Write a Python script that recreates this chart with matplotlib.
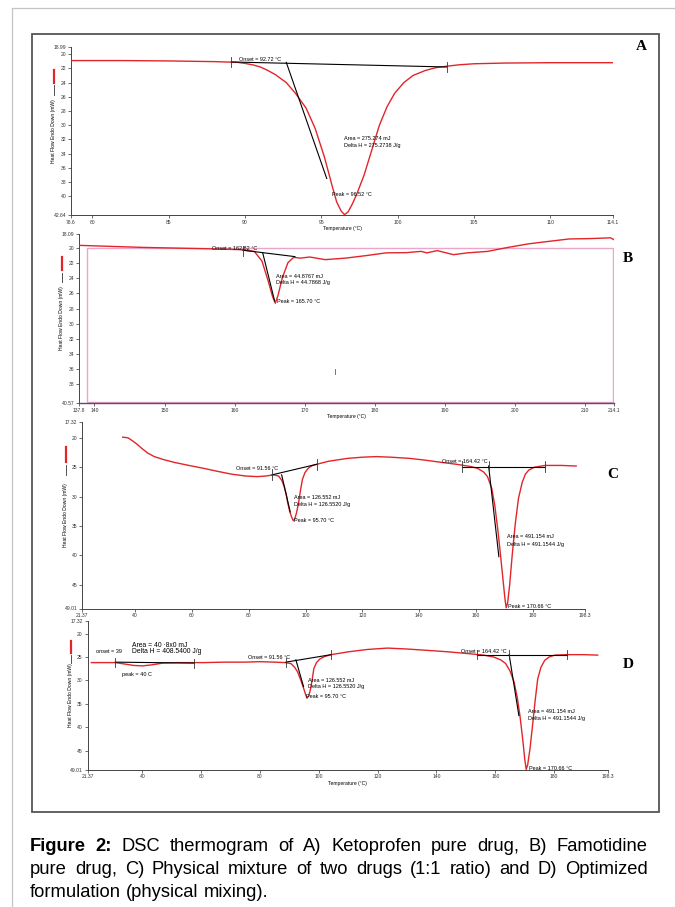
import matplotlib
matplotlib.use('Agg')
import matplotlib.pyplot as plt
from matplotlib.ticker import FuncFormatter
from matplotlib.patches import Rectangle
from matplotlib.lines import Line2D

plt.rcParams['font.family'] = ['Liberation Sans', 'DejaVu Sans']

# ---- data (temperature in °C, heat flow in mW) ----
A_temp = [78.6, 82, 85, 88, 89.5, 90.0, 90.5, 91.0, 91.5, 92.0, 92.7, 93.3, 94.0, 94.6, 95.2,
          95.7, 96.0, 96.3, 96.52, 96.75, 97.0, 97.3, 97.8, 98.3, 98.8, 99.3, 99.8, 100.4,
          101.0, 101.8, 102.5, 103.2, 104.0, 105.0, 107.0, 110.0, 114.1]
A_flow = [20.9, 20.9, 20.95, 21.05, 21.15, 21.3, 21.5, 21.8, 22.3, 22.9, 24.0, 25.5, 27.6, 30.5, 34.5,
          38.5, 40.8, 42.1, 42.6, 42.2, 41.2, 39.8, 37.0, 33.5, 30.0, 27.4, 25.5, 24.0,
          23.0, 22.3, 21.9, 21.7, 21.5, 21.35, 21.25, 21.2, 21.2]

B_temp = [137.8, 146.8, 155.5, 160.7, 162.8, 163.9, 164.8, 165.4, 165.8, 166.2, 166.8, 167.6,
          168.4, 169.4, 170.7, 172.9, 175.8, 178.7, 181.6, 184.5, 186.6, 187.4, 188.9, 191.2,
          193.2, 196.1, 199.0, 201.9, 204.8, 207.7, 210.7, 213.6, 214.1]
B_flow = [19.6, 19.87, 20.04, 20.17, 20.4, 21.7, 24.4, 26.4, 27.3, 26.2, 23.9, 21.9,
          21.2, 21.3, 21.15, 21.5, 21.3, 20.97, 20.6, 20.57, 20.4, 20.6, 20.3, 20.84,
          20.6, 20.4, 19.87, 19.4, 19.07, 18.75, 18.7, 18.6, 18.85]

C_temp = [35.7, 37.5, 38.8, 40.5, 42.4, 44.5, 46.8, 50, 54, 59,
          64.2, 69, 74.2, 79, 83, 86, 88.8, 90.5, 91.6, 92.5,
          93.2, 93.8, 94.5, 95.2, 95.7, 96.2, 96.8, 97.5, 98.2, 98.9,
          99.8, 101.1, 102.5, 104, 108, 114.8, 120, 124.9, 130, 136.6,
          142, 148.1, 153, 158.3, 160.5, 162.6, 164, 165.5, 166.6, 167.7,
          168.7, 169.6, 170.2, 170.6, 171.1, 171.8, 172.7, 173.8, 174.9, 176.2,
          177.3, 178.5, 180.5, 184.3, 190, 195.2]
C_flow = [19.9, 20.0, 20.4, 21.0, 21.8, 22.6, 23.2, 23.7, 24.2, 24.7,
          25.2, 25.7, 26.2, 26.5, 26.6, 26.5, 26.3, 26.5, 27.2, 28.3,
          29.6, 31.2, 32.6, 33.6, 34.1, 33.8, 32.8, 31.2, 29.0, 27.1,
          25.9, 25.1, 24.7, 24.5, 24.0, 23.5, 23.3, 23.2, 23.3, 23.5,
          23.8, 24.2, 24.5, 24.9, 25.2, 25.8, 26.6, 28.6, 31.6, 35.9,
          40.5, 44.8, 47.6, 48.9, 48.0, 45.0, 39.9, 34.5, 30.3, 27.6,
          26.2, 25.5, 25.0, 24.7, 24.7, 24.8]

D_temp = [22.7, 27, 30.8, 34, 37, 40, 43, 47, 52, 60.8,
          68, 74.7, 80, 85, 88.6, 90.5, 91.8, 92.8, 93.9, 94.9,
          95.5, 96.0, 96.6, 97.2, 97.8, 98.3, 99.2, 100.4, 102, 104.2,
          110, 116.4, 123.3, 130, 137.2, 144, 151.1, 156, 159.4, 161.8,
          163.5, 165, 166.4, 167.5, 168.4, 169.3, 170.0, 170.5, 171.0, 171.8,
          172.6, 173.5, 174.4, 175.5, 176.8, 178.3, 180.2, 184.4, 190, 194.8]
D_flow = [26.2, 26.2, 26.2, 26.5, 26.8, 26.9, 26.7, 26.3, 26.2, 26.2,
          26.1, 26.1, 26.0, 26.1, 26.2, 26.4, 27.2, 28.2, 30.0, 31.8,
          33.0, 33.8, 33.3, 31.8, 29.6, 27.5, 26.2, 25.4, 24.9, 24.5,
          23.9, 23.4, 23.1, 23.3, 23.6, 23.9, 24.3, 24.6, 25.0, 25.6,
          26.4, 28.0, 30.4, 33.8, 37.7, 42.5, 46.8, 49.0, 48.0, 44.5,
          39.9, 34.5, 29.7, 27.2, 25.7, 25.0, 24.6, 24.5, 24.5, 24.6]

# axis ranges and ticks
A_xlim, A_ylim = (78.6, 114.1), (18.99, 42.64)
A_xticks = [78.6, 80, 85, 90, 95, 100, 105, 110, 114.1]
A_yticks = [18.99, 20, 22, 24, 26, 28, 30, 32, 34, 36, 38, 40, 42.64]
B_xlim, B_ylim = (137.8, 214.1), (18.09, 40.57)
B_xticks = [137.8, 140, 150, 160, 170, 180, 190, 200, 210, 214.1]
B_yticks = [18.09, 20, 22, 24, 26, 28, 30, 32, 34, 36, 38, 40.57]
C_xlim, C_ylim = (21.37, 198.3), (17.32, 49.01)
C_xticks = [21.37, 40, 60, 80, 100, 120, 140, 160, 180, 198.3]
C_yticks = [17.32, 20, 25, 30, 35, 40, 45, 49.01]
D_xlim, D_ylim = C_xlim, C_ylim
D_xticks, D_yticks = C_xticks, C_yticks

# analysis constructions (baselines / tangents)
A_lines = [([89.1, 103.2], [21.1, 21.8]), ([92.7, 95.35], [21.15, 37.5])]
A_marks = [(89.1, 21.1), (103.2, 21.8)]
A_notes = [(89.6, 20.8, 'Onset = 92.72 °C'), (96.5, 31.9, 'Area = 275.274 mJ'),
           (96.5, 32.9, 'Delta H = 275.2738 J/g'), (95.7, 39.7, 'Peak = 96.52 °C')]

B_lines = [([161.2, 168.6], [20.25, 21.1]), ([164.0, 165.7], [20.6, 27.0])]
B_marks = [(161.2, 20.4)]
B_notes = [(156.7, 20.0, 'Onset = 162.82 °C'), (165.9, 23.7, 'Area = 44.8767 mJ'),
           (165.9, 24.6, 'Delta H = 44.7868 J/g'), (166.0, 27.1, 'Peak = 165.70 °C')]

C_lines = [([88.2, 104.0], [26.3, 24.5]), ([91.6, 94.6], [26.3, 32.6]),
           ([155.1, 184.3], [24.9, 24.9]), ([164.4, 168.0], [24.8, 40.2])]
C_marks = [(88.2, 26.3), (104.0, 24.5), (155.1, 24.9), (164.4, 24.9), (184.3, 24.9)]
C_notes = [(75.7, 25.3, 'Onset = 91.56 °C'), (96.0, 30.2, 'Area = 126.552 mJ'),
           (96.0, 31.4, 'Delta H = 126.5520 J/g'), (96.0, 34.0, 'Peak = 95.70 °C'),
           (148.0, 24.1, 'Onset = 164.42 °C'), (171.0, 36.8, 'Area = 491.154 mJ'),
           (171.0, 38.1, 'Delta H = 491.1544 J/g'), (171.3, 48.7, 'Peak = 170.66 °C')]

D_lines = [([30.8, 57.6], [26.1, 26.3]), ([88.8, 104.2], [26.1, 24.5]), ([92.2, 94.8], [25.6, 31.3]),
           ([153.8, 184.4], [24.5, 24.5]), ([164.7, 168.0], [24.5, 37.5])]
D_marks = [(30.8, 26.1), (57.6, 26.3), (88.8, 26.1), (104.2, 24.5), (153.8, 24.5), (164.7, 24.5), (184.4, 24.5)]
D_notes = [(76.0, 25.2, 'Onset = 91.56 °C'), (96.3, 30.1, 'Area = 126.552 mJ'),
           (96.3, 31.2, 'Delta H = 126.5520 J/g'), (95.7, 33.5, 'Peak = 95.70 °C'),
           (148.4, 23.8, 'Onset = 164.42 °C'), (171.2, 36.7, 'Area = 491.154 mJ'),
           (171.2, 38.1, 'Delta H = 491.1544 J/g'), (171.3, 48.8, 'Peak = 170.66 °C'),
           (33.1, 28.8, 'peak = 40 C'), (24.2, 23.8, 'onset = 39')]
D_big_notes = [(36.5, 22.6, 'Area = 40 ·8x0 mJ'), (36.5, 23.8, 'Delta H = 408.5400 J/g')]

caption_1 = 'Figure 2: DSC thermogram of A) Ketoprofen pure drug, B) Famotidine'
caption_2 = 'pure drug, C) Physical mixture of two drugs (1:1 ratio) and D) Optimized'
caption_3 = 'formulation (physical mixing).'

RED = '#e3252a'
W, H = 675, 907
fig = plt.figure(figsize=(W / 100, H / 100), dpi=100)


def box(l, t, r, b):
    return [l / W, 1 - b / H, (r - l) / W, (b - t) / H]


def fmt(v, p):
    return f'{v:g}'


def panel(pos, temp, flow, xlim, ylim, xticks, yticks, lines, marks, notes, tag, tag_xy,
          xlabel=True):
    ax = fig.add_axes(box(*pos))
    ax.plot(temp, flow, color=RED, lw=1.0, zorder=3, solid_joinstyle='round')
    for xs, ys in lines:
        ax.plot(xs, ys, color='black', lw=0.8, zorder=4)
    tick_h = (ylim[1] - ylim[0]) * 0.03
    for x, y in marks:
        ax.plot([x, x], [y - tick_h, y + tick_h], color='#333333', lw=0.6, zorder=4)
    for x, y, s in notes:
        ax.text(x, y, s, fontsize=4, va='center', ha='left', zorder=5)
    ax.set_xlim(*xlim)
    ax.set_ylim(ylim[1], ylim[0])
    ax.set_xticks(xticks)
    ax.set_yticks(yticks)
    ax.xaxis.set_major_formatter(FuncFormatter(fmt))
    ax.yaxis.set_major_formatter(FuncFormatter(fmt))
    ax.tick_params(labelsize=3.6, length=2, width=0.5, pad=1.5, colors='#333333')
    for s in ['top', 'right']:
        ax.spines[s].set_visible(False)
    for s in ['left', 'bottom']:
        ax.spines[s].set_color('#444444')
        ax.spines[s].set_linewidth(0.7)
    if xlabel:
        ax.set_xlabel('Temperature (°C)', fontsize=3.6, labelpad=1)
    # rotated label with its little legend marks
    ax.text(-0.032, 0.5, 'Heat Flow Endo Down (mW)', transform=ax.transAxes, rotation=90,
            fontsize=3.6, ha='center', va='center')
    ax.add_line(Line2D([-0.032, -0.032], [0.785, 0.865], transform=ax.transAxes, color=RED,
                       lw=1.6, clip_on=False))
    ax.add_line(Line2D([-0.032, -0.032], [0.715, 0.772], transform=ax.transAxes, color='#333333',
                       lw=0.6, clip_on=False))
    fig.text(tag_xy[0] / W, 1 - tag_xy[1] / H, tag, fontsize=11, fontweight='bold',
             family='Liberation Serif', ha='center', va='center')
    return ax


axA = panel((71, 47, 613, 215), A_temp, A_flow, A_xlim, A_ylim, A_xticks, A_yticks,
            A_lines, A_marks, A_notes, 'A', (641, 47))
axB = panel((79, 234, 614, 403), B_temp, B_flow, B_xlim, B_ylim, B_xticks, B_yticks,
            B_lines, B_marks, B_notes, 'B', (628, 258))
axB.spines['bottom'].set_color('#6b3f86')
axB.spines['bottom'].set_linewidth(1.0)
axB.add_patch(Rectangle((138.9, 19.9), 214.0 - 138.9, 40.5 - 19.9, fill=False,
                        edgecolor='#e9a6c6', lw=1.0, zorder=1))
axB.plot([174.3, 174.3], [36.1, 36.7], color=RED, lw=0.6)
axC = panel((82, 422, 585, 608.5), C_temp, C_flow, C_xlim, C_ylim, C_xticks, C_yticks,
            C_lines, C_marks, C_notes, 'C', (613, 474), xlabel=False)
axD = panel((87.5, 621, 608, 769.5), D_temp, D_flow, D_xlim, D_ylim, D_xticks, D_yticks,
            D_lines, D_marks, D_notes, 'D', (628, 665))
for x, y, s in D_big_notes:
    axD.text(x, y, s, fontsize=4.9, va='center', ha='left', zorder=5)

# frames
fig.add_artist(Rectangle((32 / W, 1 - 812 / H), (659 - 32) / W, (812 - 34) / H,
                         transform=fig.transFigure, fill=False, edgecolor='#555555', lw=1.3))
fig.add_artist(Line2D([12 / W, 12 / W], [0, 1 - 8 / H], transform=fig.transFigure,
                      color='#c4c4c4', lw=0.9))
fig.add_artist(Line2D([12 / W, 1], [1 - 8 / H, 1 - 8 / H], transform=fig.transFigure,
                      color='#c4c4c4', lw=0.9))

# justified caption
CAP_FS = 13.2
renderer = fig.canvas.get_renderer()


def caption_line(text, y_px, justify=True, left=30, right=648):
    words = text.split(' ')
    items = []
    for i, w in enumerate(words):
        bold = text.startswith('Figure') and i < 2
        t = fig.text(0, 1 - y_px / H, w, fontsize=CAP_FS, fontweight='bold' if bold else 'normal',
                     va='baseline', ha='left')
        items.append((t, t.get_window_extent(renderer=renderer).width))
    if justify:
        gap = (right - left - sum(wd for _, wd in items)) / (len(items) - 1)
    else:
        gap = CAP_FS * 0.28 * 100 / 72
    x = left
    for t, wd in items:
        t.set_x(x / W)
        x += wd + gap


caption_line(caption_1, 851)
caption_line(caption_2, 874)
caption_line(caption_3, 897, justify=False)

fig.savefig('out.png', dpi=100)
